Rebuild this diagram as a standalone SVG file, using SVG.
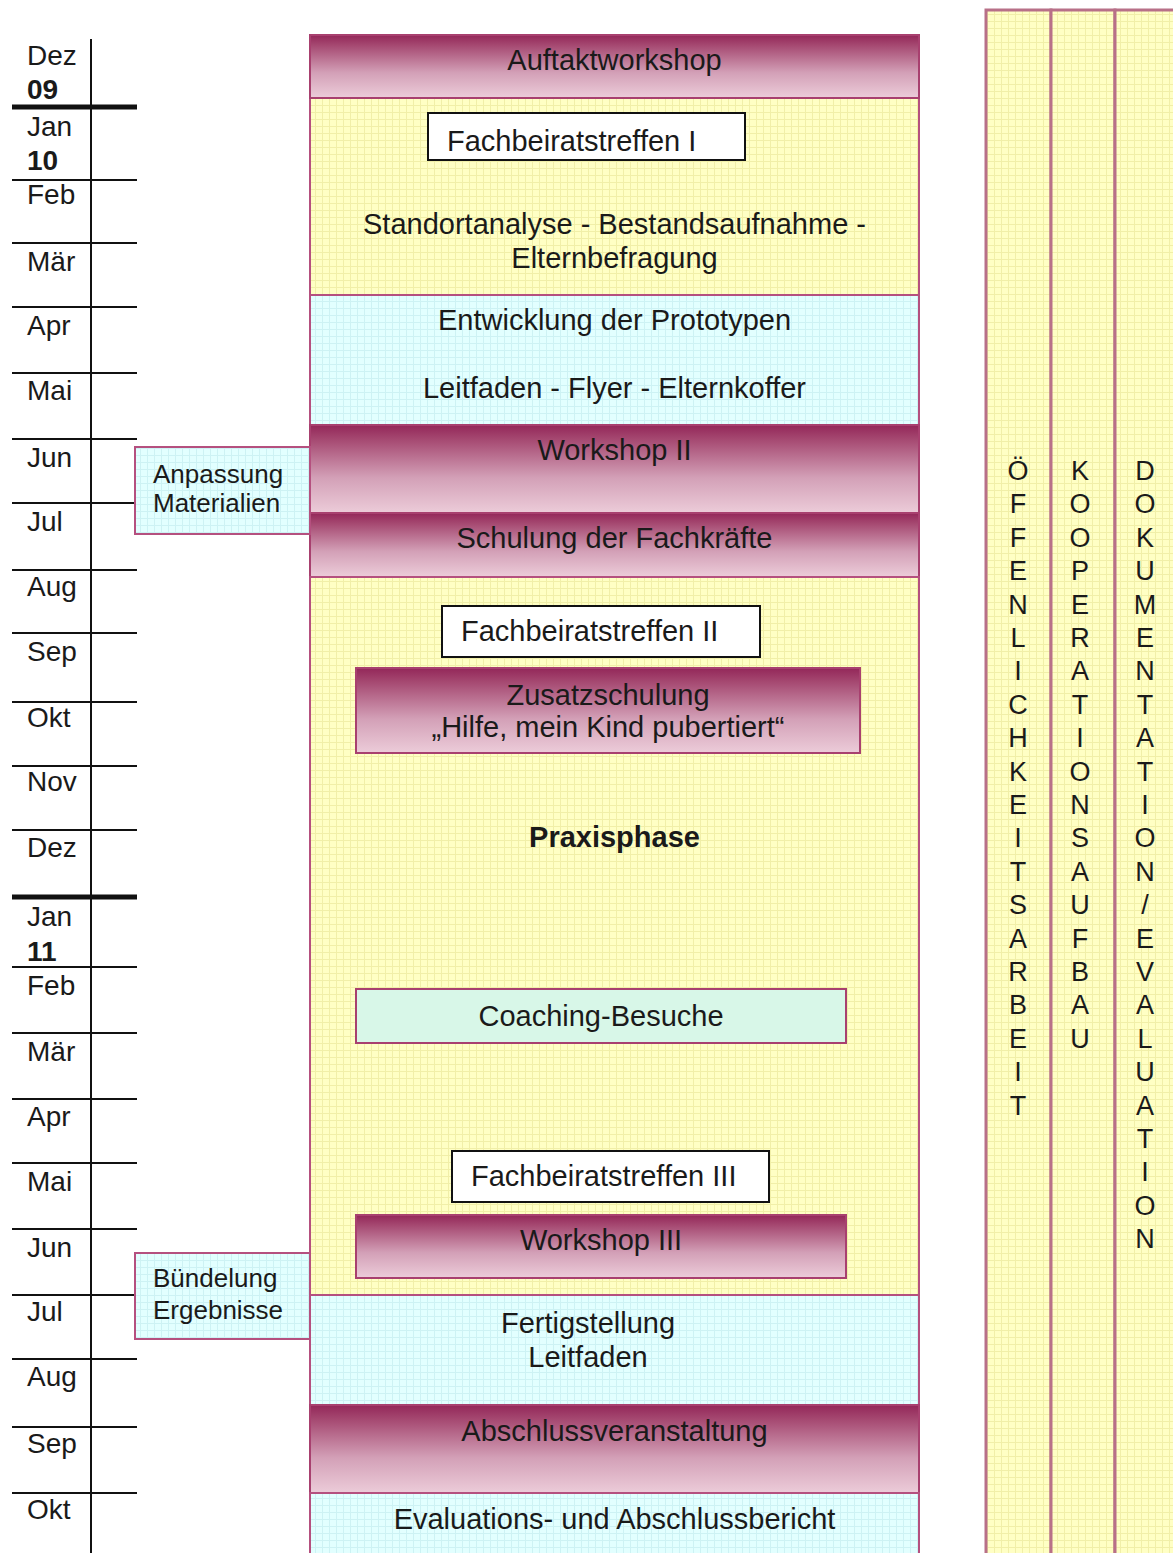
<svg xmlns="http://www.w3.org/2000/svg" width="1173" height="1553" viewBox="0 0 1173 1553">
<defs>
<linearGradient id="grad" x1="0" y1="0" x2="0" y2="1">
<stop offset="0" stop-color="#932759"/>
<stop offset="0.15" stop-color="#a4466f"/>
<stop offset="0.6" stop-color="#d3a0b7"/>
<stop offset="1" stop-color="#ecccd9"/>
</linearGradient>
<pattern id="gy" width="7" height="7" patternUnits="userSpaceOnUse">
<rect width="7" height="7" fill="#ffffc4"/>
<path d="M0 0.5H7M0.5 0V7" stroke="#f1efa8" stroke-width="1"/>
</pattern>
<pattern id="gc" width="7" height="7" patternUnits="userSpaceOnUse">
<rect width="7" height="7" fill="#e2ffff"/>
<path d="M0 0.5H7M0.5 0V7" stroke="#cdf2f4" stroke-width="1"/>
</pattern>
<style>
text{font-family:"Liberation Sans",Arial,sans-serif;fill:#1a1a1a;}
.m{font-size:28px;}
.b{font-weight:bold;}
.c{text-anchor:middle;font-size:29px;}
.f{font-size:29px;}
.s{font-size:26px;}
.v{font-size:27px;text-anchor:middle;}
.tl{stroke:#111;stroke-width:2;}
.tk{stroke:#111;stroke-width:5;}
.grad{fill:url(#grad);stroke:#a8406f;stroke-width:2;}
.yel{fill:url(#gy);stroke:#b5507f;stroke-width:2;}
.cy{fill:url(#gc);stroke:#b5507f;stroke-width:2;}
.wh{fill:#fff;stroke:#111;stroke-width:2;}
.mint{fill:#d8f7e8;stroke:#a8406f;stroke-width:2;}
.col{fill:url(#gy);stroke:#b87088;stroke-width:3;}
</style>
</defs>

<g id="timeline">
<line class="tl" x1="91" y1="39" x2="91" y2="1553"/>
<line class="tk" x1="12" y1="107" x2="137" y2="107"/>
<line class="tl" x1="12" y1="180" x2="137" y2="180"/>
<line class="tl" x1="12" y1="243" x2="137" y2="243"/>
<line class="tl" x1="12" y1="307" x2="137" y2="307"/>
<line class="tl" x1="12" y1="373" x2="137" y2="373"/>
<line class="tl" x1="12" y1="439" x2="137" y2="439"/>
<line class="tl" x1="12" y1="503" x2="137" y2="503"/>
<line class="tl" x1="12" y1="570" x2="137" y2="570"/>
<line class="tl" x1="12" y1="633" x2="137" y2="633"/>
<line class="tl" x1="12" y1="702" x2="137" y2="702"/>
<line class="tl" x1="12" y1="766" x2="137" y2="766"/>
<line class="tl" x1="12" y1="830" x2="137" y2="830"/>
<line class="tk" x1="12" y1="897" x2="137" y2="897"/>
<line class="tl" x1="12" y1="967" x2="137" y2="967"/>
<line class="tl" x1="12" y1="1033" x2="137" y2="1033"/>
<line class="tl" x1="12" y1="1099" x2="137" y2="1099"/>
<line class="tl" x1="12" y1="1163" x2="137" y2="1163"/>
<line class="tl" x1="12" y1="1229" x2="137" y2="1229"/>
<line class="tl" x1="12" y1="1295" x2="137" y2="1295"/>
<line class="tl" x1="12" y1="1359" x2="137" y2="1359"/>
<line class="tl" x1="12" y1="1427" x2="137" y2="1427"/>
<line class="tl" x1="12" y1="1493" x2="137" y2="1493"/>
<text class="m" x="27" y="65">Dez</text>
<text class="m b" x="27" y="99">09</text>
<text class="m" x="27" y="136">Jan</text>
<text class="m b" x="27" y="170">10</text>
<text class="m" x="27" y="204">Feb</text>
<text class="m" x="27" y="271">Mär</text>
<text class="m" x="27" y="335">Apr</text>
<text class="m" x="27" y="400">Mai</text>
<text class="m" x="27" y="467">Jun</text>
<text class="m" x="27" y="531">Jul</text>
<text class="m" x="27" y="596">Aug</text>
<text class="m" x="27" y="661">Sep</text>
<text class="m" x="27" y="727">Okt</text>
<text class="m" x="27" y="791">Nov</text>
<text class="m" x="27" y="857">Dez</text>
<text class="m" x="27" y="926">Jan</text>
<text class="m b" x="27" y="961">11</text>
<text class="m" x="27" y="995">Feb</text>
<text class="m" x="27" y="1061">Mär</text>
<text class="m" x="27" y="1126">Apr</text>
<text class="m" x="27" y="1191">Mai</text>
<text class="m" x="27" y="1257">Jun</text>
<text class="m" x="27" y="1321">Jul</text>
<text class="m" x="27" y="1386">Aug</text>
<text class="m" x="27" y="1453">Sep</text>
<text class="m" x="27" y="1519">Okt</text>
</g>

<g id="connectors"></g>

<g id="yellow1">
<rect class="yel" x="310" y="98" width="609" height="197"/>
<text class="c" x="614.5" y="234">Standortanalyse - Bestandsaufnahme -</text>
<text class="c" x="614.5" y="268">Elternbefragung</text>
</g>
<g id="fachbeirat1">
<rect class="wh" x="428" y="113" width="317" height="47"/>
<text class="f" x="447" y="151">Fachbeiratstreffen I</text>
</g>
<g id="auftakt">
<rect class="grad" x="310" y="35" width="609" height="63"/>
<text class="c" x="614.5" y="70">Auftaktworkshop</text>
</g>
<g id="prototypen">
<rect class="cy" x="310" y="295" width="609" height="130"/>
<text class="c" x="614.5" y="330">Entwicklung der Prototypen</text>
<text class="c" x="614.5" y="398">Leitfaden - Flyer - Elternkoffer</text>
</g>
<g id="workshop2">
<rect class="grad" x="310" y="425" width="609" height="88"/>
<text class="c" x="614.5" y="460">Workshop II</text>
</g>
<g id="schulung">
<rect class="grad" x="310" y="513" width="609" height="64"/>
<text class="c" x="614.5" y="548">Schulung der Fachkräfte</text>
</g>
<g id="anpassung">
<rect class="cy" x="135" y="447" width="175" height="87"/>
<text class="s" x="153" y="483">Anpassung</text>
<text class="s" x="153" y="512">Materialien</text>
</g>
<g id="praxisphase">
<rect class="yel" x="310" y="577" width="609" height="718"/>
<text class="c b" x="614.5" y="847">Praxisphase</text>
</g>
<g id="fachbeirat2">
<rect class="wh" x="442" y="606" width="318" height="51"/>
<text class="f" x="461" y="641">Fachbeiratstreffen II</text>
</g>
<g id="zusatzschulung">
<rect class="grad" x="356" y="668" width="504" height="85"/>
<text class="c" x="608" y="705">Zusatzschulung</text>
<text class="c" x="608" y="737">„Hilfe, mein Kind pubertiert“</text>
</g>
<g id="coaching">
<rect class="mint" x="356" y="989" width="490" height="54"/>
<text class="c" x="601" y="1026">Coaching-Besuche</text>
</g>
<g id="fachbeirat3">
<rect class="wh" x="452" y="1151" width="317" height="51"/>
<text class="f" x="471" y="1186">Fachbeiratstreffen III</text>
</g>
<g id="workshop3">
<rect class="grad" x="356" y="1215" width="490" height="63"/>
<text class="c" x="601" y="1250">Workshop III</text>
</g>
<g id="fertigstellung">
<rect class="cy" x="310" y="1295" width="609" height="110"/>
<text class="c" x="588" y="1333">Fertigstellung</text>
<text class="c" x="588" y="1367">Leitfaden</text>
</g>
<g id="buendelung">
<rect class="cy" x="135" y="1253" width="175" height="86"/>
<text class="s" x="153" y="1287">Bündelung</text>
<text class="s" x="153" y="1319">Ergebnisse</text>
</g>
<g id="abschluss">
<rect class="grad" x="310" y="1405" width="609" height="88"/>
<text class="c" x="614.5" y="1441">Abschlussveranstaltung</text>
</g>
<g id="bericht">
<rect class="cy" x="310" y="1493" width="609" height="70"/>
<text class="c" x="614.5" y="1529">Evaluations- und Abschlussbericht</text>
</g>

<g id="oeffentlichkeit">
<rect class="col" x="986" y="10" width="65" height="1553"/>
<text class="v" x="1018" y="480"><tspan x="1018" dy="0">Ö</tspan><tspan x="1018" dy="33.4">F</tspan><tspan x="1018" dy="33.4">F</tspan><tspan x="1018" dy="33.4">E</tspan><tspan x="1018" dy="33.4">N</tspan><tspan x="1018" dy="33.4">L</tspan><tspan x="1018" dy="33.4">I</tspan><tspan x="1018" dy="33.4">C</tspan><tspan x="1018" dy="33.4">H</tspan><tspan x="1018" dy="33.4">K</tspan><tspan x="1018" dy="33.4">E</tspan><tspan x="1018" dy="33.4">I</tspan><tspan x="1018" dy="33.4">T</tspan><tspan x="1018" dy="33.4">S</tspan><tspan x="1018" dy="33.4">A</tspan><tspan x="1018" dy="33.4">R</tspan><tspan x="1018" dy="33.4">B</tspan><tspan x="1018" dy="33.4">E</tspan><tspan x="1018" dy="33.4">I</tspan><tspan x="1018" dy="33.4">T</tspan></text>
</g>
<g id="kooperation">
<rect class="col" x="1051" y="10" width="64" height="1553"/>
<text class="v" x="1080" y="480"><tspan x="1080" dy="0">K</tspan><tspan x="1080" dy="33.4">O</tspan><tspan x="1080" dy="33.4">O</tspan><tspan x="1080" dy="33.4">P</tspan><tspan x="1080" dy="33.4">E</tspan><tspan x="1080" dy="33.4">R</tspan><tspan x="1080" dy="33.4">A</tspan><tspan x="1080" dy="33.4">T</tspan><tspan x="1080" dy="33.4">I</tspan><tspan x="1080" dy="33.4">O</tspan><tspan x="1080" dy="33.4">N</tspan><tspan x="1080" dy="33.4">S</tspan><tspan x="1080" dy="33.4">A</tspan><tspan x="1080" dy="33.4">U</tspan><tspan x="1080" dy="33.4">F</tspan><tspan x="1080" dy="33.4">B</tspan><tspan x="1080" dy="33.4">A</tspan><tspan x="1080" dy="33.4">U</tspan></text>
</g>
<g id="dokumentation">
<rect class="col" x="1115" y="10" width="70" height="1553"/>
<text class="v" x="1145" y="480"><tspan x="1145" dy="0">D</tspan><tspan x="1145" dy="33.4">O</tspan><tspan x="1145" dy="33.4">K</tspan><tspan x="1145" dy="33.4">U</tspan><tspan x="1145" dy="33.4">M</tspan><tspan x="1145" dy="33.4">E</tspan><tspan x="1145" dy="33.4">N</tspan><tspan x="1145" dy="33.4">T</tspan><tspan x="1145" dy="33.4">A</tspan><tspan x="1145" dy="33.4">T</tspan><tspan x="1145" dy="33.4">I</tspan><tspan x="1145" dy="33.4">O</tspan><tspan x="1145" dy="33.4">N</tspan><tspan x="1145" dy="33.4">/</tspan><tspan x="1145" dy="33.4">E</tspan><tspan x="1145" dy="33.4">V</tspan><tspan x="1145" dy="33.4">A</tspan><tspan x="1145" dy="33.4">L</tspan><tspan x="1145" dy="33.4">U</tspan><tspan x="1145" dy="33.4">A</tspan><tspan x="1145" dy="33.4">T</tspan><tspan x="1145" dy="33.4">I</tspan><tspan x="1145" dy="33.4">O</tspan><tspan x="1145" dy="33.4">N</tspan></text>
</g>
</svg>
